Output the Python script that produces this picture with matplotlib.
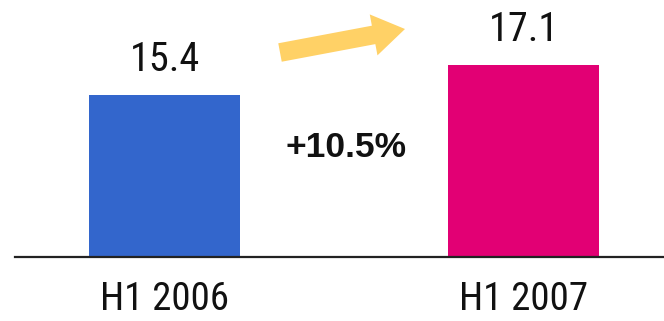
import matplotlib
matplotlib.use("Agg")
import matplotlib.pyplot as plt

periods = ["H1 2006", "H1 2007"]
values = [15.4, 17.1]
colors = ["#3366CC", "#E20074"]
growth_label = "+10.5%"

plt.rcParams['font.family'] = ['Roboto Condensed', 'Liberation Sans', 'DejaVu Sans']

fig = plt.figure(figsize=(6.64, 3.21), dpi=100)
ax = fig.add_axes([15 / 664, 1 - 257 / 321, 649 / 664, 257 / 321])

x = list(range(len(values)))
ax.bar(x, values, width=0.42, color=colors, zorder=2)
ax.set_xlim(-0.4164, 1.391)
ax.set_ylim(6.22, 20.78)

for xi, v in zip(x, values):
    ax.annotate(f"{v:.1f}", (xi, v), xytext=(0, 17), textcoords="offset points",
                ha="center", va="baseline", fontsize=29, color="#111111")

# baseline
for s in ["top", "right", "left"]:
    ax.spines[s].set_visible(False)
ax.spines["bottom"].set_linewidth(1.6)
ax.spines["bottom"].set_color("#222222")
ax.set_yticks([])
ax.set_xticks(x)
ax.set_xticklabels(periods, fontsize=28, color="#111111")
ax.tick_params(axis="x", length=0, pad=17)

# growth label between the bars
ax.text(0.5056, 11.87, growth_label, ha="center", va="baseline",
        fontsize=25.5, fontweight="bold", color="#111111",
        family=['Liberation Sans', 'DejaVu Sans'])

# yellow arrow
ax.annotate("", xy=(405, 292), xytext=(280, 268.5),
            xycoords="figure pixels", textcoords="figure pixels",
            arrowprops=dict(arrowstyle="simple,head_width=30,head_length=23,tail_width=13.5",
                            mutation_scale=1, color="#FFD166", shrinkA=0, shrinkB=0, lw=0))

fig.savefig("out.png", dpi=100)
